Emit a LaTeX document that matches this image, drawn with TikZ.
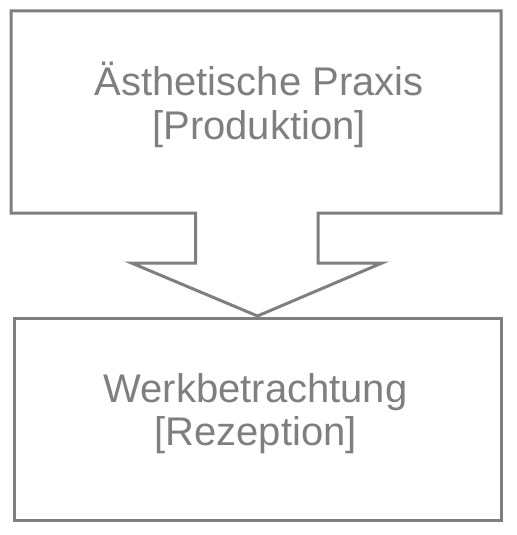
\documentclass[tikz,border=0pt]{standalone}
\usepackage{fontspec}
\setmainfont{Liberation Sans}
\usepackage{tikz}
\usetikzlibrary{positioning}
\definecolor{boxgray}{HTML}{7F7F7F}
\tikzset{box/.style={minimum width=367.5pt,minimum height=151.5pt,inner sep=0pt,outer sep=0pt}}
\tikzset{boxtext/.style={text=boxgray,align=center,inner sep=0pt,font=\fontsize{30}{32.5}\selectfont}}

\begin{document}
\begin{tikzpicture}[x=0.75pt,y=-0.75pt,line width=2.25pt,draw=boxgray]
\useasboundingbox (0,0) rectangle (517,535);
 \node[box] (praxis) at (256,112) {};
 \node[box,draw,minimum width=365.25pt,below=78.75pt of praxis,xshift=1.125pt] (werk) {};
 \coordinate (tip) at ([yshift=1.5pt]werk.north);
% Kasten oben mit Pfeil
 \draw[line join=miter] (praxis.south west) -- (praxis.north west) -- (praxis.north east)
   -- (praxis.south east) -- ([xshift=46.5pt]praxis.south) -- ++(0,50) -- ++(64,0)
   -- (tip) -- ++(-126,-53) -- ++(64,0) -- ++(0,-50) -- cycle;
 \node[boxtext] (praxistext) at ([xshift=2.25pt,yshift=5.25pt]praxis.center) {Ästhetische Praxis\\{[Produktion]}};
 \node[boxtext] (werktext) at ([xshift=-1.5pt,yshift=4.1pt]werk.center) {Werkbetrachtung\\{[Rezeption]}};
\end{tikzpicture}
\end{document}
